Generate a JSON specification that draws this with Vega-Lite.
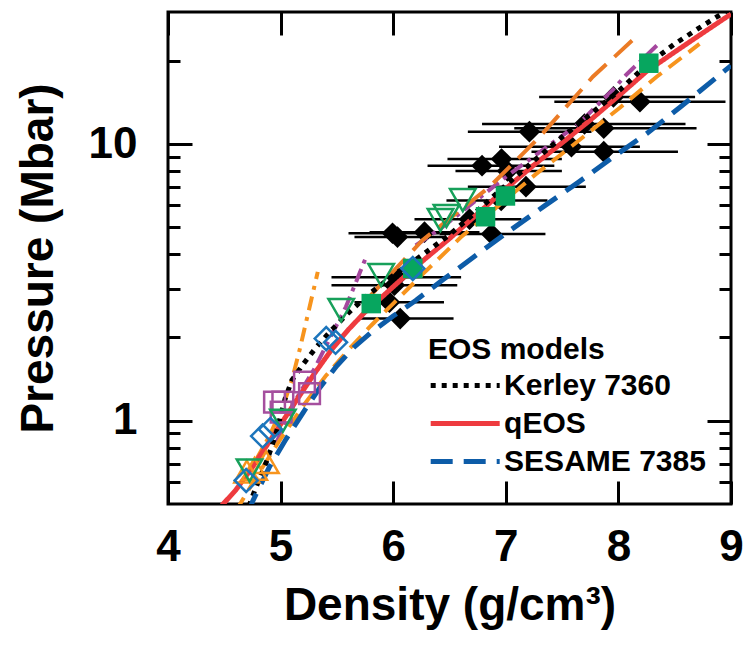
{
  "$schema": "https://vega.github.io/schema/vega-lite/v6.json",
  "width": 563,
  "height": 492,
  "autosize": "none",
  "padding": {"left": 168, "top": 12, "right": 16, "bottom": 152},
  "background": "white",
  "config": {
    "view": {"stroke": "#000000", "strokeWidth": 3},
    "font": "Liberation Sans",
    "axis": {
      "domain": false, "grid": false, "tickColor": "#000000", "tickWidth": 3,
      "labelFont": "Liberation Sans", "labelFontWeight": "bold", "labelFontSize": 44, "labelColor": "#000000",
      "titleFont": "Liberation Sans", "titleFontWeight": "bold", "titleFontSize": 46, "titleColor": "#000000",
      "labelOverlap": false, "labelFlush": false
    }
  },
  "datasets": {
    "curves": [
      {"s": "qEOS", "d": 4.45, "p": 0.48}, {"s": "qEOS", "d": 4.6, "p": 0.56}, {"s": "qEOS", "d": 4.75, "p": 0.68}, {"s": "qEOS", "d": 4.9, "p": 0.84}, {"s": "qEOS", "d": 5.0, "p": 0.97}, {"s": "qEOS", "d": 5.15, "p": 1.2}, {"s": "qEOS", "d": 5.3, "p": 1.48}, {"s": "qEOS", "d": 5.45, "p": 1.8}, {"s": "qEOS", "d": 5.6, "p": 2.13}, {"s": "qEOS", "d": 5.75, "p": 2.47}, {"s": "qEOS", "d": 5.9, "p": 2.8}, {"s": "qEOS", "d": 6.05, "p": 3.18}, {"s": "qEOS", "d": 6.2, "p": 3.6}, {"s": "qEOS", "d": 6.35, "p": 4.05}, {"s": "qEOS", "d": 6.5, "p": 4.55}, {"s": "qEOS", "d": 6.75, "p": 5.6}, {"s": "qEOS", "d": 7.0, "p": 6.9}, {"s": "qEOS", "d": 7.25, "p": 8.4}, {"s": "qEOS", "d": 7.5, "p": 10.1}, {"s": "qEOS", "d": 7.75, "p": 12.2}, {"s": "qEOS", "d": 8.0, "p": 14.9}, {"s": "qEOS", "d": 8.25, "p": 18.3}, {"s": "qEOS", "d": 8.5, "p": 21.5}, {"s": "qEOS", "d": 8.75, "p": 25.2}, {"s": "qEOS", "d": 9.0, "p": 29.5},
      {"s": "Kerley 7360", "d": 4.69, "p": 0.45}, {"s": "Kerley 7360", "d": 4.74, "p": 0.52}, {"s": "Kerley 7360", "d": 4.8, "p": 0.6}, {"s": "Kerley 7360", "d": 4.88, "p": 0.72}, {"s": "Kerley 7360", "d": 4.96, "p": 0.9}, {"s": "Kerley 7360", "d": 5.04, "p": 1.2}, {"s": "Kerley 7360", "d": 5.1, "p": 1.4}, {"s": "Kerley 7360", "d": 5.2, "p": 1.6}, {"s": "Kerley 7360", "d": 5.32, "p": 1.85}, {"s": "Kerley 7360", "d": 5.45, "p": 2.12}, {"s": "Kerley 7360", "d": 5.6, "p": 2.45}, {"s": "Kerley 7360", "d": 5.8, "p": 2.9}, {"s": "Kerley 7360", "d": 6.0, "p": 3.35}, {"s": "Kerley 7360", "d": 6.25, "p": 3.95}, {"s": "Kerley 7360", "d": 6.5, "p": 4.7}, {"s": "Kerley 7360", "d": 6.75, "p": 5.75}, {"s": "Kerley 7360", "d": 7.0, "p": 7.1}, {"s": "Kerley 7360", "d": 7.25, "p": 8.7}, {"s": "Kerley 7360", "d": 7.5, "p": 10.6}, {"s": "Kerley 7360", "d": 7.75, "p": 12.8}, {"s": "Kerley 7360", "d": 8.0, "p": 15.5}, {"s": "Kerley 7360", "d": 8.25, "p": 19.3}, {"s": "Kerley 7360", "d": 8.5, "p": 23.0}, {"s": "Kerley 7360", "d": 8.75, "p": 26.8}, {"s": "Kerley 7360", "d": 9.0, "p": 31.0},
      {"s": "SESAME 7385", "d": 4.71, "p": 0.46}, {"s": "SESAME 7385", "d": 4.75, "p": 0.51}, {"s": "SESAME 7385", "d": 4.9, "p": 0.68}, {"s": "SESAME 7385", "d": 5.05, "p": 0.86}, {"s": "SESAME 7385", "d": 5.2, "p": 1.07}, {"s": "SESAME 7385", "d": 5.35, "p": 1.32}, {"s": "SESAME 7385", "d": 5.5, "p": 1.58}, {"s": "SESAME 7385", "d": 5.65, "p": 1.84}, {"s": "SESAME 7385", "d": 5.8, "p": 2.08}, {"s": "SESAME 7385", "d": 6.0, "p": 2.39}, {"s": "SESAME 7385", "d": 6.2, "p": 2.72}, {"s": "SESAME 7385", "d": 6.45, "p": 3.25}, {"s": "SESAME 7385", "d": 6.75, "p": 4.0}, {"s": "SESAME 7385", "d": 7.0, "p": 4.75}, {"s": "SESAME 7385", "d": 7.35, "p": 6.0}, {"s": "SESAME 7385", "d": 7.65, "p": 7.3}, {"s": "SESAME 7385", "d": 7.95, "p": 8.95}, {"s": "SESAME 7385", "d": 8.25, "p": 10.9}, {"s": "SESAME 7385", "d": 8.55, "p": 13.6}, {"s": "SESAME 7385", "d": 9.0, "p": 19.2},
      {"s": "orange_dash", "d": 4.6, "p": 0.47}, {"s": "orange_dash", "d": 4.8, "p": 0.64}, {"s": "orange_dash", "d": 5.0, "p": 0.86}, {"s": "orange_dash", "d": 5.2, "p": 1.13}, {"s": "orange_dash", "d": 5.4, "p": 1.45}, {"s": "orange_dash", "d": 5.6, "p": 1.8}, {"s": "orange_dash", "d": 5.8, "p": 2.2}, {"s": "orange_dash", "d": 6.0, "p": 2.65}, {"s": "orange_dash", "d": 6.25, "p": 3.35}, {"s": "orange_dash", "d": 6.6, "p": 4.6}, {"s": "orange_dash", "d": 7.0, "p": 6.3}, {"s": "orange_dash", "d": 7.27, "p": 7.8}, {"s": "orange_dash", "d": 7.54, "p": 9.5}, {"s": "orange_dash", "d": 8.01, "p": 13.5}, {"s": "orange_dash", "d": 8.34, "p": 17.5}, {"s": "orange_dash", "d": 8.72, "p": 23.0},
      {"s": "orange_longdash", "d": 5.75, "p": 2.7}, {"s": "orange_longdash", "d": 6.26, "p": 4.49}, {"s": "orange_longdash", "d": 6.855, "p": 7.0}, {"s": "orange_longdash", "d": 7.3, "p": 10.6}, {"s": "orange_longdash", "d": 7.773, "p": 17.5}, {"s": "orange_longdash", "d": 8.16, "p": 24.45},
      {"s": "purple_low", "d": 4.96, "p": 0.83}, {"s": "purple_low", "d": 5.15, "p": 1.22}, {"s": "purple_low", "d": 5.3, "p": 1.54}, {"s": "purple_low", "d": 5.58, "p": 2.58}, {"s": "purple_low", "d": 5.67, "p": 3.17}, {"s": "purple_low", "d": 5.76, "p": 3.91},
      {"s": "purple_high", "d": 6.2, "p": 4.3}, {"s": "purple_high", "d": 6.44, "p": 5.02}, {"s": "purple_high", "d": 7.0, "p": 7.6}, {"s": "purple_high", "d": 7.654, "p": 11.9}, {"s": "purple_high", "d": 7.95, "p": 15.7}, {"s": "purple_high", "d": 8.07, "p": 17.8}, {"s": "purple_high", "d": 8.38, "p": 23.5},
      {"s": "orange_dashdot", "d": 4.78, "p": 0.72}, {"s": "orange_dashdot", "d": 4.9, "p": 0.88}, {"s": "orange_dashdot", "d": 5.017, "p": 1.117}, {"s": "orange_dashdot", "d": 5.1, "p": 1.4}, {"s": "orange_dashdot", "d": 5.168, "p": 1.797}, {"s": "orange_dashdot", "d": 5.25, "p": 2.5}, {"s": "orange_dashdot", "d": 5.33, "p": 3.45}
    ],
    "bars": [
      {"d": 8.191, "p": 14.23, "lo": 7.431, "hi": 8.951}, {"d": 7.956, "p": 14.8, "lo": 7.296, "hi": 8.681}, {"d": 7.699, "p": 11.81, "lo": 6.789, "hi": 8.596}, {"d": 7.87, "p": 11.4, "lo": 7.075, "hi": 8.694}, {"d": 7.21, "p": 11.08, "lo": 6.663, "hi": 7.761}, {"d": 7.583, "p": 9.78, "lo": 6.94, "hi": 8.191}, {"d": 7.87, "p": 9.38, "lo": 7.228, "hi": 8.529}, {"d": 6.789, "p": 8.35, "lo": 6.305, "hi": 7.431}, {"d": 6.962, "p": 8.83, "lo": 6.482, "hi": 7.498}, {"d": 7.015, "p": 7.99, "lo": 6.553, "hi": 7.498}, {"d": 7.179, "p": 7.01, "lo": 6.663, "hi": 7.711}, {"d": 6.959, "p": 6.25, "lo": 6.473, "hi": 7.37}, {"d": 6.678, "p": 5.35, "lo": 6.189, "hi": 7.139}, {"d": 6.873, "p": 4.73, "lo": 6.411, "hi": 7.352}, {"d": 6.278, "p": 4.8, "lo": 5.79, "hi": 6.766}, {"d": 5.994, "p": 4.76, "lo": 5.603, "hi": 6.411}, {"d": 6.038, "p": 4.61, "lo": 5.656, "hi": 6.455}, {"d": 6.029, "p": 3.3, "lo": 5.452, "hi": 6.603}, {"d": 6.011, "p": 3.09, "lo": 5.452, "hi": 6.569}, {"d": 5.967, "p": 2.68, "lo": 5.656, "hi": 6.451}, {"d": 6.062, "p": 2.34, "lo": 5.707, "hi": 6.536}
    ],
    "pts": [
      {"g": "green_square", "d": 8.27, "p": 19.59}, {"g": "green_square", "d": 6.997, "p": 6.49}, {"g": "green_square", "d": 6.82, "p": 5.46}, {"g": "green_square", "d": 5.805, "p": 2.65}, {"g": "green_square", "d": 6.174, "p": 3.55},
      {"g": "green_tri", "d": 6.618, "p": 6.27}, {"g": "green_tri", "d": 6.473, "p": 5.49}, {"g": "green_tri", "d": 6.42, "p": 5.31}, {"g": "green_tri", "d": 5.893, "p": 3.36}, {"g": "green_tri", "d": 5.538, "p": 2.51}, {"g": "green_tri", "d": 5.02, "p": 1.0}, {"g": "green_tri", "d": 4.724, "p": 0.661},
      {"g": "blue_diamond", "d": 6.174, "p": 3.55}, {"g": "blue_diamond", "d": 5.405, "p": 1.98}, {"g": "blue_diamond", "d": 5.488, "p": 1.92}, {"g": "blue_diamond", "d": 4.84, "p": 0.88}, {"g": "blue_diamond", "d": 4.91, "p": 0.93}, {"g": "blue_diamond", "d": 4.694, "p": 0.608},
      {"g": "purple_square", "d": 5.212, "p": 1.38}, {"g": "purple_square", "d": 5.257, "p": 1.252}, {"g": "purple_square", "d": 4.946, "p": 1.168}, {"g": "purple_square", "d": 5.02, "p": 1.168}, {"g": "purple_square", "d": 5.005, "p": 1.074},
      {"g": "orange_tri", "d": 4.872, "p": 0.708}, {"g": "orange_tri", "d": 4.768, "p": 0.67}, {"g": "orange_tri", "d": 4.7, "p": 0.655}
    ]
  },
  "resolve": {"axis": {"x": "independent", "y": "independent"}},
  "layer": [
    {
      "data": {"name": "bars"},
      "mark": {"type": "rule", "color": "#000000", "strokeWidth": 2.5},
      "encoding": {
        "x": {"field": "lo", "type": "quantitative", "scale": {"domain": [4, 9], "nice": false, "zero": false}, "axis": null},
        "x2": {"field": "hi"},
        "y": {"field": "p", "type": "quantitative", "scale": {"type": "log", "domain": [0.5, 30], "nice": false}, "axis": null}
      }
    },
    {
      "data": {"name": "bars"},
      "mark": {"type": "point", "shape": "diamond", "filled": true, "color": "#000000", "size": 470, "opacity": 1},
      "encoding": {
        "x": {"field": "d", "type": "quantitative", "axis": null},
        "y": {"field": "p", "type": "quantitative", "axis": null}
      }
    },
    {
      "data": {"name": "curves"},
      "transform": [{"filter": "datum.s == 'orange_dashdot'"}],
      "mark": {"type": "line", "clip": true, "color": "#F7941D", "strokeWidth": 4, "strokeDash": [14, 7, 4, 7]},
      "encoding": {
        "x": {"field": "d", "type": "quantitative", "axis": null},
        "y": {"field": "p", "type": "quantitative", "axis": null}
      }
    },
    {
      "data": {"name": "curves"},
      "transform": [{"filter": "datum.s == 'purple_low' || datum.s == 'purple_high'"}],
      "mark": {"type": "line", "clip": true, "color": "#A5479E", "strokeWidth": 4, "strokeDash": [14, 6, 4, 6]},
      "encoding": {
        "x": {"field": "d", "type": "quantitative", "axis": null},
        "y": {"field": "p", "type": "quantitative", "axis": null},
        "detail": {"field": "s"}
      }
    },
    {
      "data": {"name": "curves"},
      "transform": [{"filter": "datum.s == 'orange_longdash'"}],
      "mark": {"type": "line", "clip": true, "color": "#EB7B25", "strokeWidth": 4, "strokeDash": [24, 11]},
      "encoding": {
        "x": {"field": "d", "type": "quantitative", "axis": null},
        "y": {"field": "p", "type": "quantitative", "axis": null}
      }
    },
    {
      "data": {"name": "curves"},
      "transform": [{"filter": "datum.s == 'orange_dash'"}],
      "mark": {"type": "line", "clip": true, "color": "#F7941D", "strokeWidth": 4, "strokeDash": [16, 9]},
      "encoding": {
        "x": {"field": "d", "type": "quantitative", "axis": null},
        "y": {"field": "p", "type": "quantitative", "axis": null}
      }
    },
    {
      "data": {"name": "curves"},
      "transform": [{"filter": "datum.s == 'qEOS' || datum.s == 'Kerley 7360' || datum.s == 'SESAME 7385'"}],
      "mark": {"type": "line", "clip": true, "strokeWidth": 5},
      "encoding": {
        "x": {"field": "d", "type": "quantitative",
          "axis": {"orient": "bottom", "values": [4, 5, 6, 7, 8, 9], "tickSize": -23, "labelPadding": 44, "title": "Density (g/cm³)", "titlePadding": 14}},
        "y": {"field": "p", "type": "quantitative",
          "axis": {"orient": "left", "values": [0.6, 0.7, 0.8, 0.9, 1, 2, 3, 4, 5, 6, 7, 8, 9, 10, 20],
            "tickSize": {"condition": {"test": "datum.value == 1 || datum.value == 10", "value": -24}, "value": -12},
            "labelExpr": "datum.value == 1 ? '1' : datum.value == 10 ? '10' : ''",
            "labelPadding": 55, "title": "Pressure (Mbar)", "titlePadding": 26}},
        "color": {"field": "s", "type": "nominal",
          "scale": {"domain": ["Kerley 7360", "qEOS", "SESAME 7385"], "range": ["#000000", "#EE3B3F", "#0D5CA8"]},
          "legend": {"orient": "none", "legendX": 260, "legendY": 323, "title": "EOS models", "padding": 0,
            "titleFont": "Liberation Sans", "titleFontSize": 30, "titleFontWeight": "bold", "titleColor": "#000000", "titlePadding": 4, "titleLimit": 0,
            "labelFont": "Liberation Sans", "labelFontSize": 30, "labelFontWeight": "bold", "labelColor": "#000000", "labelLimit": 0,
            "symbolType": "M-2.5,0L2.5,0", "symbolSize": 762, "symbolStrokeWidth": 5, "symbolOffset": 20.7, "labelOffset": 22.4, "rowPadding": 6}},
        "strokeDash": {"field": "s", "type": "nominal",
          "scale": {"domain": ["Kerley 7360", "qEOS", "SESAME 7385"], "range": [[5, 6], [1, 0], [22, 11]]},
          "legend": {"orient": "none", "legendX": 260, "legendY": 323, "title": "EOS models"}}
      }
    },
    {
      "data": {"name": "pts"},
      "transform": [{"filter": "datum.g == 'green_square'"}],
      "mark": {"type": "point", "shape": "square", "filled": true, "color": "#07A65F", "size": 380, "opacity": 1},
      "encoding": {
        "x": {"field": "d", "type": "quantitative",
          "axis": {"orient": "top", "values": [4, 5, 6, 7, 8, 9], "tickSize": -23, "labels": false, "title": null}},
        "y": {"field": "p", "type": "quantitative",
          "axis": {"orient": "right", "values": [0.6, 0.7, 0.8, 0.9, 1, 2, 3, 4, 5, 6, 7, 8, 9, 10, 20],
            "tickSize": {"condition": {"test": "datum.value == 1 || datum.value == 10", "value": -24}, "value": -12},
            "labels": false, "title": null}}
      }
    },
    {
      "data": {"name": "pts"},
      "transform": [{"filter": "datum.g == 'purple_square'"}],
      "mark": {"type": "point", "shape": "square", "filled": false, "color": "#A54F9E", "size": 430, "strokeWidth": 2.5, "opacity": 1},
      "encoding": {
        "x": {"field": "d", "type": "quantitative", "axis": null},
        "y": {"field": "p", "type": "quantitative", "axis": null}
      }
    },
    {
      "data": {"name": "pts"},
      "transform": [{"filter": "datum.g == 'orange_tri'"}],
      "mark": {"type": "point", "shape": "triangle-up", "filled": false, "color": "#F7941D", "size": 625, "strokeWidth": 2.5, "opacity": 1},
      "encoding": {
        "x": {"field": "d", "type": "quantitative", "axis": null},
        "y": {"field": "p", "type": "quantitative", "axis": null}
      }
    },
    {
      "data": {"name": "pts"},
      "transform": [{"filter": "datum.g == 'green_tri'"}],
      "mark": {"type": "point", "shape": "triangle-down", "filled": false, "color": "#17A05A", "size": 650, "strokeWidth": 2.5, "opacity": 1},
      "encoding": {
        "x": {"field": "d", "type": "quantitative", "axis": null},
        "y": {"field": "p", "type": "quantitative", "axis": null}
      }
    },
    {
      "data": {"name": "pts"},
      "transform": [{"filter": "datum.g == 'blue_diamond'"}],
      "mark": {"type": "point", "shape": "diamond", "filled": false, "color": "#1C75BC", "size": 529, "strokeWidth": 2.5, "opacity": 1},
      "encoding": {
        "x": {"field": "d", "type": "quantitative", "axis": null},
        "y": {"field": "p", "type": "quantitative", "axis": null}
      }
    }
  ]
}
